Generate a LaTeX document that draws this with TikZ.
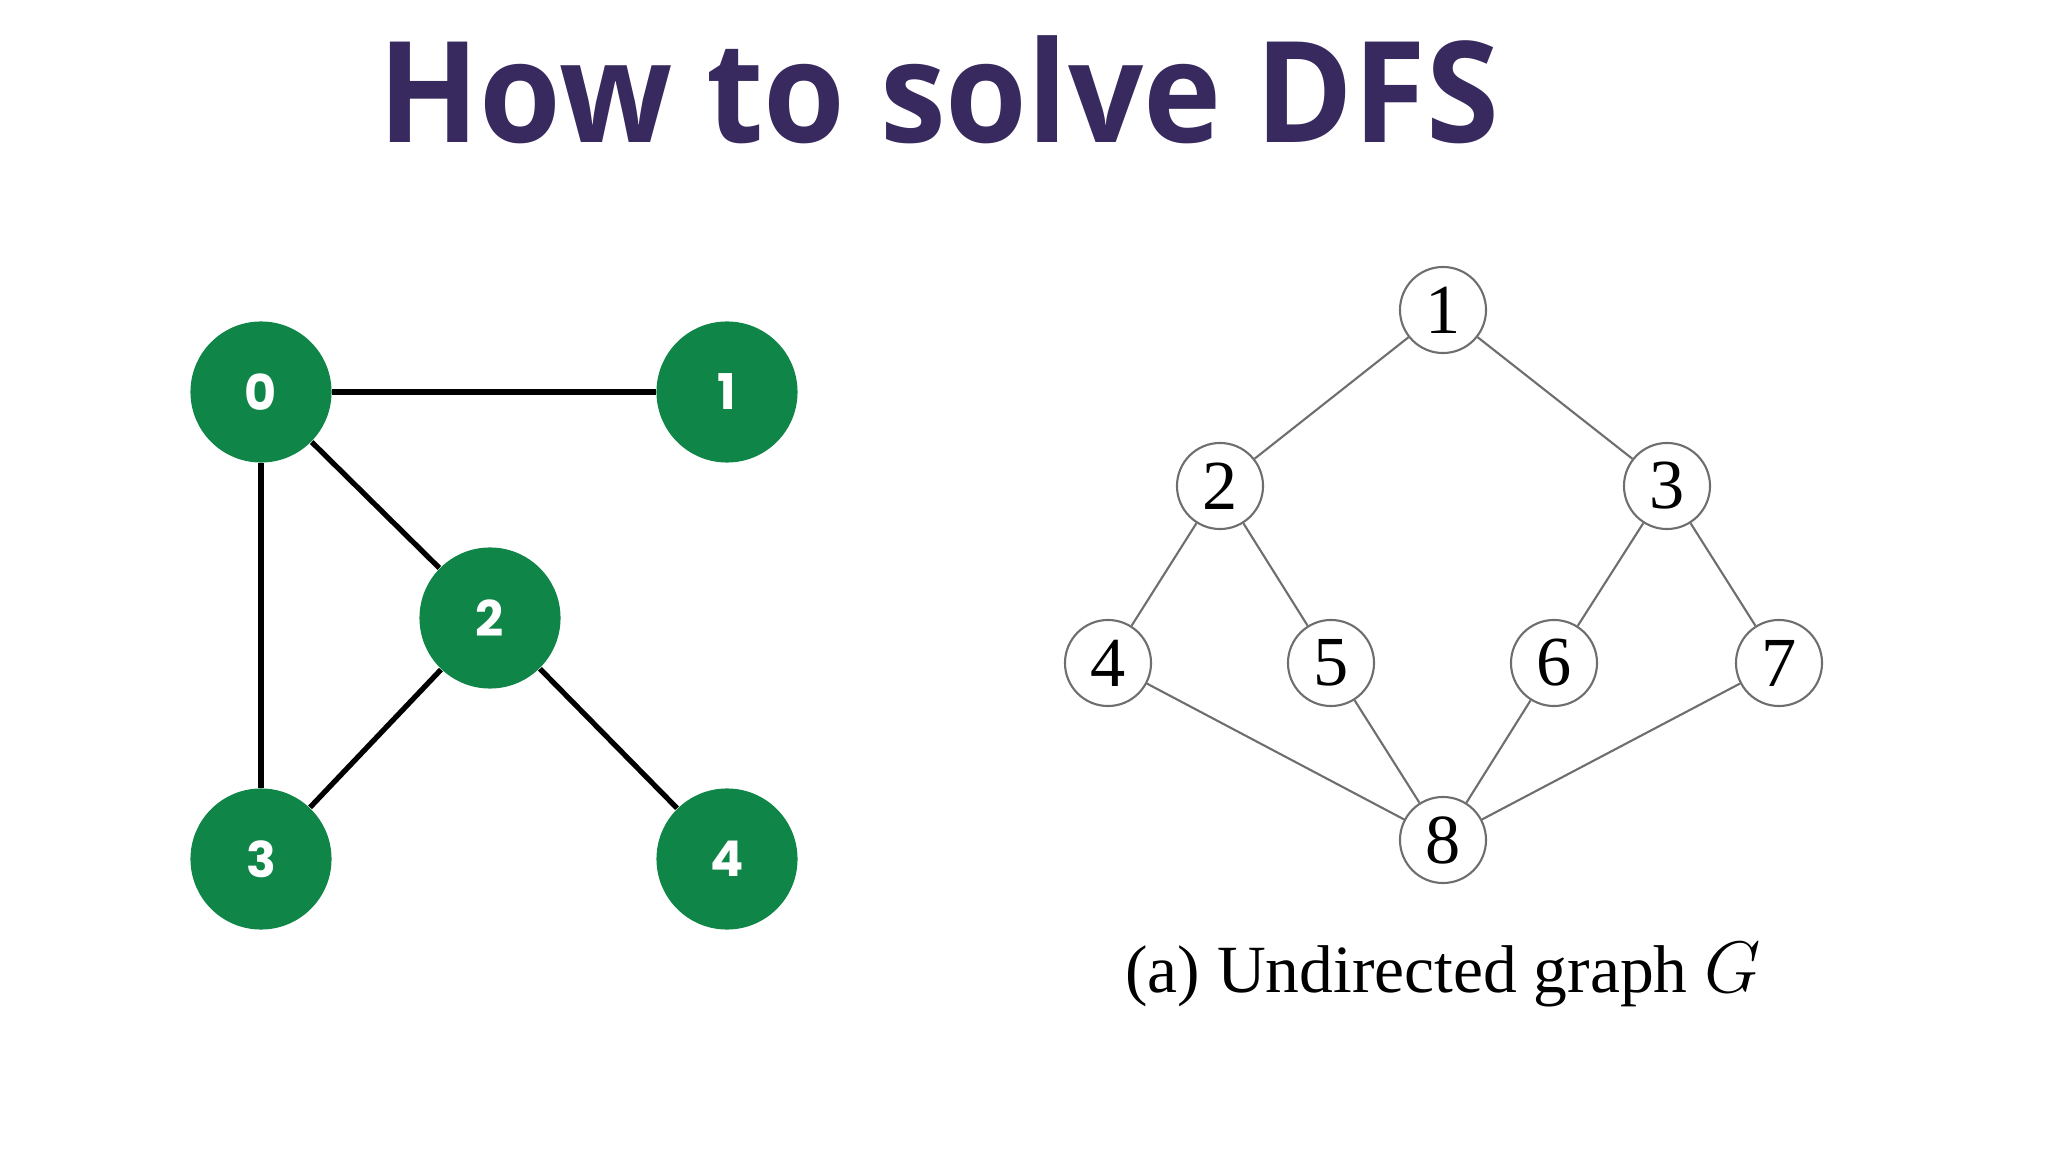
\documentclass[tikz,border=0pt]{standalone}
\usepackage{fontspec}
\setmainfont{Liberation Serif}
\newfontfamily\titlefont{Open Sans}
\newfontfamily\labelfont{Poppins}
\definecolor{titleColor}{RGB}{56,42,94}
\definecolor{nodeGreen}{RGB}{16,133,72}
\definecolor{edgeGray}{RGB}{110,110,110}

\begin{document}
\begin{tikzpicture}[x=0.01cm, y=-0.01cm,
    gnode/.style={circle, fill=nodeGreen, minimum size=1.41cm, inner sep=0pt,
        text=white, font=\labelfont\bfseries\fontsize{14}{14}\selectfont},
    gedge/.style={line width=1.5pt, black},
    unode/.style={circle, draw=edgeGray, line width=0.6pt, fill=white,
        minimum size=0.86cm, inner sep=0pt, font=\fontsize{20}{20}\selectfont},
    uedge/.style={line width=0.6pt, edgeGray}]
    \useasboundingbox (0,0) rectangle (2048,1152);

    % Titulo
    \node[text=titleColor, font=\titlefont\bfseries\fontsize{40}{40}\selectfont] (title) at (939,90) {\scalebox{0.94}[1]{How to solve DFS}};

    % Grafo verde (izquierda)
    \node[gnode] (g0) at (261,392) {0};
    \node[gnode] (g1) at (727,392) {1};
    \node[gnode] (g2) at (490,618) {2};
    \node[gnode] (g3) at (261,859) {3};
    \node[gnode] (g4) at (727,859) {4};
    % aristas
    \draw[gedge] (g0) -- (g1);
    \draw[gedge] (g0) -- (g2);
    \draw[gedge] (g0) -- (g3);
    \draw[gedge] (g2) -- (g3);
    \draw[gedge] (g2) -- (g4);

    % Grafo no dirigido G (derecha)
    \node[unode] (v1) at (1443,310) {1};
    \node[unode] (v2) at (1220,486) {2};
    \node[unode] (v3) at (1667,486) {3};
    \node[unode] (v4) at (1108,663) {4};
    \node[unode] (v5) at (1331,663) {5};
    \node[unode] (v6) at (1554,663) {6};
    \node[unode] (v7) at (1779,663) {7};
    \node[unode] (v8) at (1443,840) {8};
    % aristas
    \draw[uedge] (v1) -- (v2);
    \draw[uedge] (v1) -- (v3);
    \draw[uedge] (v2) -- (v4);
    \draw[uedge] (v2) -- (v5);
    \draw[uedge] (v3) -- (v6);
    \draw[uedge] (v3) -- (v7);
    \draw[uedge] (v4) -- (v8);
    \draw[uedge] (v5) -- (v8);
    \draw[uedge] (v6) -- (v8);
    \draw[uedge] (v7) -- (v8);

    \node[font=\fontsize{19.2}{19.2}\selectfont] (caption) at (1443,975) {(a) Undirected graph $G$};
\end{tikzpicture}
\end{document}
